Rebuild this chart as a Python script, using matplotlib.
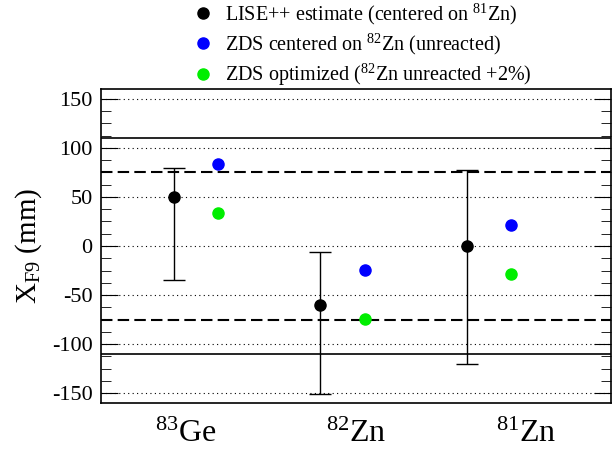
import matplotlib

matplotlib.use("Agg")
import matplotlib.pyplot as plt
from matplotlib.lines import Line2D
from matplotlib.ticker import MultipleLocator
import numpy as np

plt.rcParams["font.family"] = ["Liberation Serif", "DejaVu Serif"]
plt.rcParams["mathtext.fontset"] = "custom"
plt.rcParams["mathtext.rm"] = "Liberation Serif"
plt.rcParams["mathtext.it"] = "Liberation Serif:italic"
plt.rcParams["axes.unicode_minus"] = False

isotopes = [r"$^{83}$Ge", r"$^{82}$Zn", r"$^{81}$Zn"]

# LISE++ estimate with asymmetric range
lise_y = [50, -60, 0]
lise_hi = [79, -6, 77]
lise_lo = [-35, -151, -120]

zds_center = [84, -24, 21]
zds_opt = [34, -74, -29]

slit_solid = 110
slit_dash = 75

fig = plt.figure(figsize=(6.16, 4.5), dpi=100)
ax = fig.add_axes([0.164, 0.1044, 0.828, 0.698])

n = len(isotopes)
xb = 0.43 + 0.86 * np.arange(n)
xz = xb + 0.26

lise_y = np.array(lise_y)
yerr = [lise_y - np.array(lise_lo), np.array(lise_hi) - lise_y]

ax.errorbar(xb, lise_y, yerr=yerr, fmt="o", color="black", ms=8,
            elinewidth=1, capsize=8, capthick=1, zorder=4)
ax.plot(xz, zds_center, "o", color="#0000ff", ms=8, zorder=4)
ax.plot(xz, zds_opt, "o", color="#00ee00", ms=8, zorder=4)

for s in (1, -1):
    ax.axhline(s * slit_solid, color="black", lw=1.2, zorder=2)
    ax.axhline(s * slit_dash, color="black", lw=1.5, ls=(0, (5.5, 2.5)), zorder=2)

ax.set_xlim(0, 3)
ax.set_ylim(-160, 160)
ax.yaxis.set_major_locator(MultipleLocator(50))
ax.yaxis.set_minor_locator(MultipleLocator(12.5))
ax.grid(axis="y", which="major", ls=(0, (1, 3)), color="black", lw=0.8)
ax.set_axisbelow(True)

ax.set_xticks(np.arange(n) + 0.5)
ax.set_xticklabels(isotopes, fontsize=23)
ax.tick_params(axis="x", length=0, pad=12)
ax.tick_params(axis="y", which="both", direction="in", right=True,
               labelsize=16, pad=6)
ax.tick_params(axis="y", which="major", length=12)
ax.tick_params(axis="y", which="minor", length=7)
for sp in ax.spines.values():
    sp.set_linewidth(1.2)

ax.set_ylabel(r"X$_{\mathrm{F9}}$ (mm)", fontsize=21, labelpad=6)

handles = [
    Line2D([], [], ls="", marker="o", color="black", ms=8),
    Line2D([], [], ls="", marker="o", color="#0000ff", ms=8),
    Line2D([], [], ls="", marker="o", color="#00ee00", ms=8),
]
labels = [
    r"LISE++ estimate (centered on $^{81}$Zn)",
    r"ZDS centered on $^{82}$Zn (unreacted)",
    r"ZDS optimized ($^{82}$Zn unreacted +2%)",
]
fig.legend(handles, labels, loc="upper left", bbox_to_anchor=(0.30, 1.015),
           frameon=False, fontsize=14.5, handletextpad=0.6, labelspacing=0.25,
           handlelength=1.0, borderaxespad=0)

fig.savefig("out.png", dpi=100)
